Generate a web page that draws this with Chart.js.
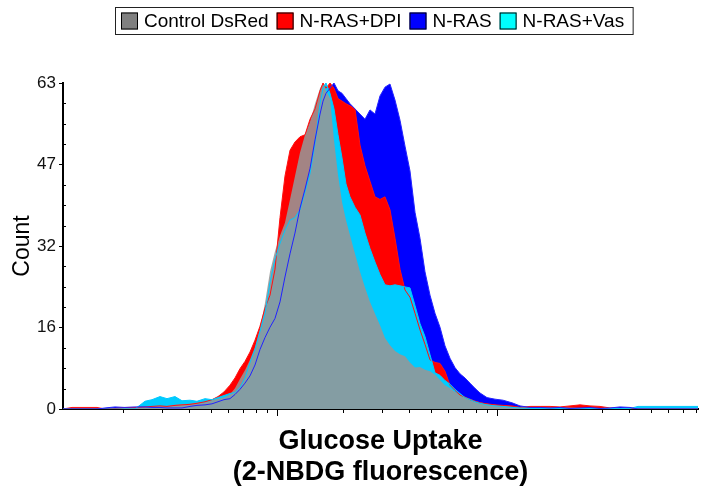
<!DOCTYPE html>
<html><head><meta charset="utf-8">
<script src="https://cdn.jsdelivr.net/npm/chart.js@4.4.1/dist/chart.umd.min.js"></script>
<style>html,body{margin:0;padding:0;background:#fff;}canvas{display:block;}</style>
</head><body>
<canvas id="c" width="701" height="491"></canvas>
<script>
// x: fluorescence (log scale, bin positions)
const fluorescence = [1.065,1.170,1.272,1.413,1.520,1.653,1.835,2.038,2.262,2.512,2.703,2.939,3.162,3.439,3.700,4.023,4.329,4.707,5.064,5.393,5.742,6.114,6.443,6.789,7.154,7.539,7.943,8.370,8.820,9.294,9.793,10.32,10.87,11.46,12.07,12.72,13.41,14.13,14.89,15.69,16.19,16.70,17.42,18.16,18.94,19.75,20.59,21.47,22.62,23.84,25.12,26.47,27.89,29.39,30.97,32.63,34.39,36.24,38.18,40.23,42.40,44.67,47.07,49.60,52.27,55.08,58.03,61.15,64.43,67.89,71.53,75.39,79.43,83.70,90.07,97.93,106.5,117.0,127.2,141.3,156.9,174.2,193.4,214.7,238.4,264.7,293.9,326.3,362.4,402.2,437.4,470.7,550.8,644.3,753.9,819.6];

const controlDsRed = [0,0,0,0,0, 0,0.1,0.2,0.3,0.4, 0.5,0.6,0.6,0.8,0.9, 1.0,1.2,1.3,1.7,2.0, 2.2,2.8,4.0,5.8,7.5, 9.5,12.0,15.5,20.5,26.5, 30.5,33.5,36.0,40.5,45.0, 49.5,53.0,55.5,59.0,62.0, 63.0,61.5,60.0,52.0,45.2, 40.0,36.5,33.6,30.0,26.5, 23.5,20.7,18.4,16.2,13.7, 12.3,11.2,10.6,10.2,9.0, 8.0,8.1,7.6,7.3,6.6, 5.6,4.6,4.0,3.3,2.9, 2.3,2.0,1.6,1.3,1.0, 0.8,0.6,0.5,0.4,0.3, 0.3,0.3,0.3,0.3,0.2, 0.2,0.2,0.1,0,0, 0,0,0,0,0, 0];

const nrasDpi = [0,0.3,0.3,0.3,0.3, 0,0.1,0.3,0.3,0.4, 0.5,0.6,0.5,0.7,0.8, 0.9,1.1,1.4,1.8,2.4, 3.3,4.6,6.0,7.8,9.2, 11.0,13.3,16.0,19.5,22.0, 27.0,37.0,45.0,50.0,51.6, 52.6,53.0,56.0,58.0,61.5, 63.0,62.0,63.0,62.0,60.0, 59.5,59.0,58.6,58.0,51.0, 47.0,44.0,41.0,40.5,41.0, 38.5,33.0,27.0,23.0,21.6, 18.5,15.3,12.5,9.5,9.0, 8.8,7.3,4.6,3.6,2.7, 2.3,1.8,1.5,1.2,1.0, 0.8,0.7,0.6,0.3,0.5, 0.5,0.5,0.4,0.6,0.8, 0.6,0.5,0.2,0.1,0.1, 0,0,0,0,0, 0];

const nras = [0,0,0,0,0, 0.2,0.4,0.3,0.4,0.4, 0.3,0.3,0.2,0.2,0.2, 0.5,0.7,0.8,1.0,1.4, 1.8,2.0,2.8,3.8,5.0, 6.4,8.5,11.5,13.8,15.8, 17.5,20.7,25.5,30.0,34.0, 38.8,42.5,46.5,52.0,57.0, 59.5,61.0,62.0,63.0,61.5, 61.0,60.0,59.0,58.0,57.0, 56.0,57.8,57.0,60.5,62.2, 62.8,59.7,55.8,50.8,46.0, 38.0,33.0,26.5,22.0,18.5, 15.8,12.2,9.8,8.0,6.8, 6.0,5.0,4.0,3.1,2.2, 1.9,1.7,1.2,0.6,0.3, 0.3,0.2,0.3,0.1,0.2, 0.3,0.1,0.2,0.4,0.3, 0,0,0,0,0, 0];

const nrasVas = [0,0,0,0,0, 0,0,0,0,1.5, 1.8,2.4,2.0,2.4,1.6, 1.7,1.5,2.0,1.8,2.2, 2.6,3.0,3.2,4.2,6.0, 9.0,11.5,15.0,18.5,24.5, 29.0,32.0,34.5,36.5,37.0, 38.5,42.0,45.5,51.5,59.0, 62.0,63.0,61.0,58.0,53.0, 48.5,43.5,41.0,39.0,37.5, 34.0,31.0,28.4,26.0,24.0, 23.8,24.0,23.8,23.6,23.4, 20.0,16.5,14.0,10.5,7.0, 6.5,5.5,4.8,3.8,3.0, 2.2,1.8,1.4,1.1,0.8, 0.6,0.5,0.3,0.2,0.1, 0.1,0.1,0.1,0.1,0.1, 0.1,0.1,0.1,0.1,0.1, 0.5,0.5,0.5,0.5,0.5, 0.5];

const seriesNames = ['Control DsRed', 'N-RAS+DPI', 'N-RAS', 'N-RAS+Vas'];
const legendColors = ['#808080', '#ff0000', '#0000ff', '#00ffff'];
const yTickValues = [0, 15.75, 31.5, 47.25, 63];
const yTickLabels = ['0', '16', '32', '47', '63'];
const xDecades = [1, 10, 100];
const xTitle = ['Glucose Uptake', '(2-NBDG fluorescence)'];
const yTitle = 'Count';

const FONT = "'Liberation Sans', Arial, Helvetica, sans-serif";
const pts = arr => arr.map((v, i) => ({x: fluorescence[i], y: v}));

function fillSet(label, arr, color, order) {
  return {label, data: pts(arr), backgroundColor: color, borderColor: 'rgba(0,0,0,0)',
    borderWidth: 0, fill: 'origin', pointRadius: 0, tension: 0, order};
}
function lineSet(label, arr, color) {
  return {label, data: pts(arr), borderColor: color, borderWidth: 1, fill: false,
    pointRadius: 0, tension: 0, order: 0};
}

const decor = {
  id: 'decor',
  afterDraw(chart) {
    const {ctx, chartArea: a, scales: {x, y}} = chart;
    ctx.save();
    ctx.strokeStyle = '#000';
    ctx.lineWidth = 1;
    ctx.beginPath();
    // x-axis log tick marks
    for (const d of xDecades) {
      for (let m = 1; m <= 9; m++) {
        const v = d * m;
        if (v <= x.min || v >= x.max) continue;
        const px = Math.round(x.getPixelForValue(v)) + 0.5;
        const len = m === 1 ? 7 : 4;
        ctx.moveTo(px, a.bottom);
        ctx.lineTo(px, a.bottom + len);
      }
    }
    // y minor ticks (inside)
    for (let k = 1; k < 16; k++) {
      if (k % 4 === 0) continue;
      const py = Math.round(y.getPixelForValue(63 * k / 16)) + 0.5;
      ctx.moveTo(a.left, py);
      ctx.lineTo(a.left + 3, py);
    }
    ctx.stroke();

    // legend
    ctx.font = '19px ' + FONT;
    ctx.textBaseline = 'middle';
    ctx.textAlign = 'left';
    let lx = 121;
    const ly = 21;
    seriesNames.forEach((n, i) => {
      ctx.fillStyle = legendColors[i];
      ctx.fillRect(lx, ly - 8.5, 17, 17);
      ctx.strokeStyle = '#000';
      ctx.strokeRect(lx + 0.5, ly - 8, 16, 16);
      lx += 17 + 6;
      ctx.fillStyle = '#000';
      ctx.fillText(n, lx, ly + 1);
      lx += ctx.measureText(n).width + 8;
    });
    ctx.strokeStyle = '#222';
    ctx.strokeRect(115.5, 7.5, (lx + 1) - 115.5, 27);
    ctx.restore();
  }
};

new Chart(document.getElementById('c'), {
  type: 'line',
  data: {
    datasets: [
      lineSet('N-RAS edge', nras, '#2222ff'),
      lineSet('N-RAS+Vas edge', nrasVas, '#00c8ff'),
      lineSet('N-RAS+DPI edge', nrasDpi, '#ff1010'),
      fillSet(seriesNames[0], controlDsRed, 'rgba(150,150,150,0.88)', 1),
      fillSet(seriesNames[3], nrasVas, '#00ccff', 2),
      fillSet(seriesNames[1], nrasDpi, '#ff0000', 3),
      fillSet(seriesNames[2], nras, '#0000ff', 4)
    ]
  },
  options: {
    responsive: false,
    animation: false,
    devicePixelRatio: 1,
    layout: {padding: {top: 83, right: 3, left: 0, bottom: 0}},
    plugins: {legend: {display: false}, tooltip: {enabled: false}},
    scales: {
      x: {
        type: 'logarithmic',
        min: 1.065, max: 819.6,
        grid: {display: false, drawTicks: false},
        border: {display: true, color: '#000', width: 2},
        ticks: {display: false},
        title: {display: true, text: xTitle, color: '#000',
          font: {family: FONT, size: 27, weight: 'bold', lineHeight: 1.15},
          padding: {top: 0, bottom: 3}},
        afterFit(s) { s.height = 82; }
      },
      y: {
        min: 0, max: 63,
        afterBuildTicks(s) { s.ticks = yTickValues.map(v => ({value: v})); },
        ticks: {color: '#111', font: {family: FONT, size: 17}, padding: 3,
          callback: (v, i) => yTickLabels[i]},
        grid: {display: true, drawOnChartArea: false, drawTicks: true, tickLength: 4, color: '#000', tickColor: '#000'},
        border: {display: true, color: '#000', width: 2},
        title: {display: true, text: yTitle, color: '#000',
          font: {family: FONT, size: 23}, padding: {top: 8.5, bottom: 0}},
        afterFit(s) { s.width = 63; }
      }
    }
  },
  plugins: [decor]
});
</script>
</body></html>
